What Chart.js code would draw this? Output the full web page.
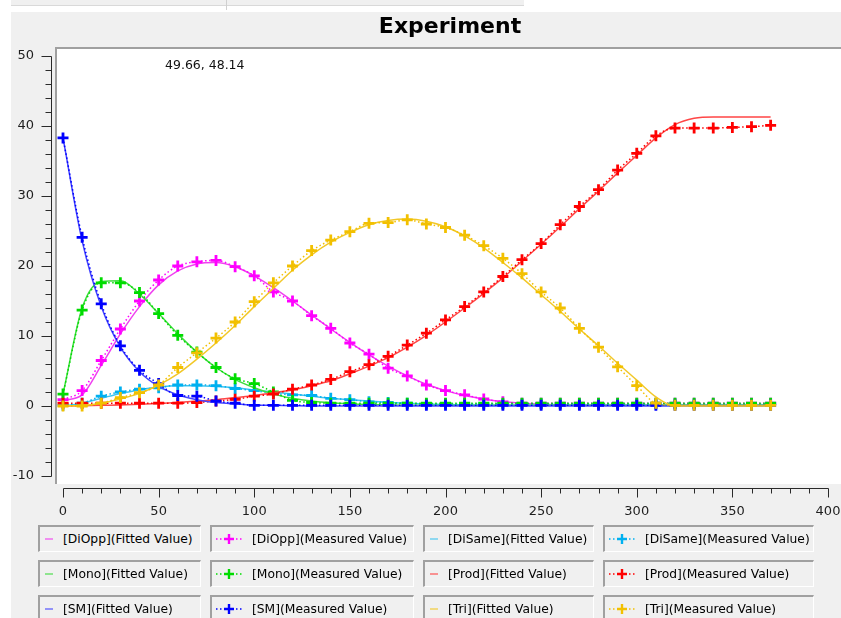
<!DOCTYPE html>
<html><head><meta charset="utf-8">
<script src="https://cdn.jsdelivr.net/npm/chart.js@4.4.1/dist/chart.umd.min.js"></script>
<style>
html,body{margin:0;padding:0;background:#fff;width:841px;height:618px;overflow:hidden;position:relative;font-family:"DejaVu Sans",sans-serif;}
#strip{position:absolute;left:11px;top:0;width:513px;height:5px;background:#f0f0f0;border-bottom:1px solid #d9d9d9;}
#vline{position:absolute;left:226px;top:0;width:1px;height:10px;background:#d0d0d0;}
#panel{position:absolute;left:11px;top:12px;right:0;bottom:0;background:#f0f0f0;}
#chart{position:absolute;left:0;top:0;}
#legend{position:absolute;left:38px;top:525px;display:grid;grid-template-columns:163px 204px 171px 211px;grid-auto-rows:27px;column-gap:9px;row-gap:8px;}
.item{box-sizing:border-box;border-top:2px solid #a0a0a0;border-left:2px solid #a0a0a0;border-right:1px solid #fff;border-bottom:1px solid #fff;background:#f0f0f0;display:flex;align-items:center;font-size:12.3px;color:#000;white-space:nowrap;}
.dash{display:inline-block;width:8px;height:2px;margin-left:5px;margin-right:10px;opacity:0.55;}
.sym{margin-left:4px;margin-right:10px;}
</style></head><body>
<div id="strip"></div><div id="vline"></div><div id="panel"></div>
<canvas id="chart" width="900" height="618"></canvas>
<div id="legend"></div>
<script>
// ---- data ----
const times = [0,10,20,30,40,50,60,70,80,90,100,110,120,130,140,150,160,170,180,190,200,210,220,230,240,250,260,270,280,290,300,310,320,330,340,350,360,370];
const seriesNames = ['DiOpp','DiSame','Mono','Prod','SM','Tri'];

const diOppFit  = [0.8,1.6,5.8,10.3,14.2,17.3,19.3,20.3,20.5,19.9,18.6,16.9,15.0,13.0,11.0,9.1,7.3,5.7,4.3,3.1,2.2,1.5,1.0,0.6,0.4,0.25,0.15,0.1,0.1,0.1,0.1,0.1,0.1,0.1,0.1,0.1,0.1,0.1];
const diOppMeas = [0.9,2.2,6.5,11.0,15.0,18.0,20.0,20.6,20.8,19.9,18.6,16.3,15.0,12.9,11.1,9.0,7.4,5.4,4.3,3.0,2.2,1.6,1.0,0.6,0.4,0.4,0.4,0.4,0.4,0.4,0.4,0.4,0.4,0.4,0.4,0.4,0.4,0.4];
const diSameFit  = [0,0.4,1.1,1.8,2.3,2.7,2.9,2.9,2.8,2.6,2.3,2.0,1.7,1.4,1.1,0.9,0.7,0.5,0.4,0.3,0.2,0.15,0.1,0.1,0.1,0.1,0.1,0.1,0.1,0.1,0.1,0.1,0.1,0.1,0.1,0.1,0.1,0.1];
const diSameMeas = [0.1,0.4,1.4,2.0,2.4,2.6,3.0,3.0,2.9,2.5,2.2,1.8,1.6,1.5,1.1,0.9,0.6,0.5,0.4,0.3,0.3,0.3,0.3,0.3,0.3,0.3,0.3,0.3,0.3,0.3,0.3,0.3,0.3,0.3,0.3,0.3,0.3,0.3];
const monoFit  = [1.7,14.0,17.8,17.9,16.0,13.2,10.3,7.7,5.5,3.8,2.6,1.7,1.1,0.7,0.45,0.3,0.2,0.15,0.1,0.1,0.1,0.1,0.1,0.1,0.1,0.1,0.1,0.1,0.1,0.1,0.1,0.1,0.1,0.1,0.1,0.1,0.1,0.1];
const monoMeas = [1.7,13.7,17.6,17.6,16.2,13.2,10.1,7.7,5.5,3.9,3.2,2.0,0.8,0.5,0.4,0.4,0.4,0.4,0.4,0.4,0.4,0.4,0.4,0.4,0.4,0.4,0.4,0.4,0.4,0.4,0.4,0.4,0.4,0.4,0.4,0.4,0.4,0.4];
const prodFit  = [0,0.05,0.1,0.15,0.25,0.35,0.5,0.7,0.9,1.2,1.5,1.9,2.3,2.9,3.6,4.6,5.7,6.9,8.4,10.1,12.0,14.0,16.1,18.3,20.7,23.1,25.6,28.2,30.7,33.3,35.8,38.3,40.2,41.1,41.3,41.3,41.3,41.3];
const prodMeas = [0.4,0.4,0.4,0.4,0.4,0.4,0.4,0.5,0.7,0.95,1.4,1.7,2.4,3.0,3.8,4.9,5.9,7.1,8.7,10.4,12.3,14.2,16.3,18.5,20.9,23.2,25.9,28.5,30.9,33.7,36.1,38.6,39.7,39.7,39.7,39.8,39.9,40.1];
const smFit  = [38.3,23.6,14.2,8.4,4.9,2.8,1.6,0.9,0.5,0.3,0.15,0.1,0.05,0,0,0,0,0,0,0,0,0,0,0,0,0,0,0,0,0,0,0,0,0,0,0,0,0];
const smMeas = [38.3,24.1,14.6,8.6,5.1,3.2,1.5,1.4,0.7,0.4,0.1,0.1,0.1,0.1,0.1,0.1,0.1,0.1,0.1,0.1,0.1,0.1,0.1,0.1,0.1,0.1,0.1,0.1,0.1,0.1,0.1,0.1,0.1,0.1,0.1,0.1,0.1,0.1];
const triFit  = [0,0.1,0.4,1.0,1.8,3.0,4.6,6.7,9.0,11.5,14.2,16.8,19.4,21.6,23.4,24.8,25.9,26.5,26.7,26.4,25.6,24.3,22.6,20.5,18.3,15.9,13.5,11.0,8.6,6.1,3.7,1.3,0,0,0,0,0,0];
const triMeas = [0,0,0.4,1.2,1.9,3.0,5.5,7.6,9.7,12.0,14.9,17.6,20.0,22.2,23.7,24.9,26.1,26.2,26.6,26.0,25.5,24.4,22.9,21.1,18.9,16.3,14.0,11.1,8.4,5.6,2.9,0.4,0.1,0.1,0.1,0.1,0.1,0.1];

const fittedSeries   = [diOppFit, diSameFit, monoFit, prodFit, smFit, triFit];
const measuredSeries = [diOppMeas, diSameMeas, monoMeas, prodMeas, smMeas, triMeas];
const xTickLabels = [0,50,100,150,200,250,300,350,400];
const yTickLabels = [-10,0,10,20,30,40,50];
const trackerText = '49.66, 48.14';

// ---- styles ----
const fitColors  = ['#f040f0','#40c4f0','#40dc40','#ff4646','#4646ff','#f2c828'];
const measColors = ['#ff00ff','#00b0f0','#00dc00','#ff0000','#0000ff','#f2c000'];

const datasets = [];
seriesNames.forEach((name, k) => {
  datasets.push({
    label: '[' + name + '](Fitted Value)',
    data: times.map((t, i) => ({x: t, y: fittedSeries[k][i]})),
    borderColor: fitColors[k], backgroundColor: fitColors[k],
    borderWidth: 1.5, pointRadius: 0, cubicInterpolationMode: 'monotone', clip: false
  });
  datasets.push({
    label: '[' + name + '](Measured Value)',
    data: times.map((t, i) => ({x: t, y: measuredSeries[k][i]})),
    borderColor: measColors[k], backgroundColor: measColors[k],
    borderWidth: 1.5, borderDash: [1.5, 2.5],
    pointStyle: 'cross', pointRadius: 5.5, pointBorderWidth: 2.8, pointBorderColor: measColors[k],
    cubicInterpolationMode: 'monotone', clip: false
  });
});
datasets.forEach((d, i) => { d.order = datasets.length - 1 - i; });

const tickFont = {family: 'DejaVu Sans', size: 13};
const PAGE_W = 841;

const framePlugin = {
  id: 'frame',
  beforeDraw(chart) {
    const {ctx, chartArea: ca} = chart;
    const l = ca.left - 8, t = ca.top - 9, b = ca.bottom + 8;
    ctx.save();
    ctx.fillStyle = '#ffffff';
    ctx.fillRect(l, t, PAGE_W - l, b - t);
    ctx.fillStyle = '#a0a0a0';
    ctx.fillRect(l, t, PAGE_W - l, 2);
    ctx.fillRect(l, t, 2, b - t);
    ctx.restore();
  },
  afterDraw(chart) {
    const {ctx, chartArea: ca} = chart;
    const xs = chart.scales.x, ys = chart.scales.y;
    ctx.save();
    ctx.strokeStyle = '#2a2a2a';
    ctx.lineWidth = 1;
    // y axis with major and minor ticks
    const ax = ca.left - 11.5;
    ctx.beginPath();
    ctx.moveTo(ax, Math.round(ys.getPixelForValue(50)) + 0.5);
    ctx.lineTo(ax, Math.round(ys.getPixelForValue(-10)) + 0.5);
    for (let v = -10; v <= 50; v += 2) {
      const y = Math.round(ys.getPixelForValue(v)) + 0.5;
      const len = (v % 10 === 0) ? 10 : 6;
      ctx.moveTo(ax, y); ctx.lineTo(ax - len, y);
    }
    ctx.stroke();
    // x axis with major and minor ticks
    const ay = ca.bottom + 12.5;
    ctx.beginPath();
    ctx.moveTo(Math.round(xs.getPixelForValue(0)) + 0.5, ay);
    ctx.lineTo(Math.round(xs.getPixelForValue(400)) + 0.5, ay);
    for (let v = 0; v <= 400; v += 10) {
      const x = Math.round(xs.getPixelForValue(v)) + 0.5;
      const len = (v % 50 === 0) ? 9 : 5;
      ctx.moveTo(x, ay); ctx.lineTo(x, ay + len);
    }
    ctx.stroke();
    // tracker readout
    ctx.fillStyle = '#111';
    ctx.font = '12.5px "DejaVu Sans"';
    ctx.textBaseline = 'middle';
    ctx.textAlign = 'left';
    ctx.fillText(trackerText, ca.left + 102, ca.top + 10);
    ctx.restore();
  }
};

const chart = new Chart(document.getElementById('chart'), {
  type: 'line',
  data: {datasets},
  options: {
    responsive: false, animation: false, devicePixelRatio: 1, events: [],
    layout: {padding: 0},
    scales: {
      x: {type: 'linear', min: 0, max: 400,
          afterBuildTicks: s => { s.ticks = xTickLabels.map(v => ({value: v})); },
          ticks: {padding: 28, color: '#1e1e1e', font: tickFont, maxRotation: 0, autoSkip: false},
          grid: {display: false, drawTicks: false}, border: {display: false},
          afterFit: s => { s.height = 142; }},
      y: {type: 'linear', min: -10, max: 50,
          afterBuildTicks: s => { s.ticks = yTickLabels.map(v => ({value: v})); },
          ticks: {padding: 29, color: '#1e1e1e', font: tickFont},
          grid: {display: false, drawTicks: false}, border: {display: false},
          afterFit: s => { s.width = 63; }},
      yR: {type: 'linear', position: 'right', display: true, min: 0, max: 1,
           ticks: {display: false}, grid: {display: false, drawTicks: false}, border: {display: false},
           afterFit: s => { s.width = 72; }}
    },
    plugins: {
      legend: {display: false},
      tooltip: {enabled: false},
      title: {display: true, text: 'Experiment', color: '#000',
              font: {family: 'DejaVu Sans', size: 22, weight: 'bold', lineHeight: 1},
              padding: {top: 16, bottom: 18}}
    }
  },
  plugins: [framePlugin]
});

// ---- HTML legend built from the chart's datasets ----
const legendEl = document.getElementById('legend');
chart.data.datasets.forEach(ds => {
  const item = document.createElement('div');
  item.className = 'item';
  if (ds.pointRadius === 0) {
    const d = document.createElement('span');
    d.className = 'dash';
    d.style.background = ds.borderColor;
    item.appendChild(d);
  } else {
    const ns = 'http://www.w3.org/2000/svg';
    const svg = document.createElementNS(ns, 'svg');
    svg.setAttribute('width', '26'); svg.setAttribute('height', '12');
    svg.setAttribute('class', 'sym');
    const line = document.createElementNS(ns, 'line');
    line.setAttribute('x1', '0'); line.setAttribute('y1', '6'); line.setAttribute('x2', '26'); line.setAttribute('y2', '6');
    line.setAttribute('stroke', ds.borderColor); line.setAttribute('stroke-width', '1.5');
    line.setAttribute('stroke-dasharray', '1.5 2.5');
    const cross = document.createElementNS(ns, 'path');
    cross.setAttribute('d', 'M8 6H18M13 1V11');
    cross.setAttribute('stroke', ds.borderColor); cross.setAttribute('stroke-width', '2.4');
    svg.appendChild(line); svg.appendChild(cross);
    item.appendChild(svg);
  }
  const txt = document.createElement('span');
  txt.textContent = ds.label;
  item.appendChild(txt);
  legendEl.appendChild(item);
});
</script>
</body></html>
